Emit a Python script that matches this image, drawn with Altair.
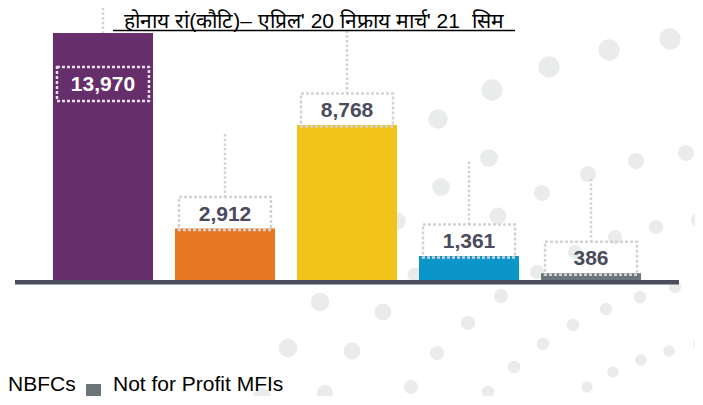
import altair as alt
import pandas as pd

# ---- data -------------------------------------------------------------
categories = ["Banks", "SFBs", "NBFC-MFIs", "NBFCs", "Not for Profit MFIs"]
values = [13970, 2912, 8768, 1361, 386]
value_labels = ["13,970", "2,912", "8,768", "1,361", "386"]
bar_colors = ["#662e6b", "#e87722", "#f2c31b", "#0b96c9", "#6b767b"]

title_text = "होनाय रां(कौटि)– एप्रिल' 20 निफ्राय मार्च' 21\u00a0 सिम"
legend_labels = ["NBFCs", "Not for Profit MFIs"]
legend_colors = ["#0b96c9", "#6b767b"]

# decorative background dots (page-pixel positions and radii)
dot_x = [492, 549, 609, 670, 438, 387, 489, 441, 397, 498, 542, 588, 636, 686,
         415, 537, 575, 615, 656, 698, 320, 383, 288, 352, 262, 325, 411, 501,
         468, 437, 543, 573, 606, 640, 675, 514, 488, 587, 613, 641, 669, 699,
         563, 689]
dot_y = [90, 67, 50, 39, 119, 153, 158, 187, 221, 216, 193, 174, 161, 153,
         275, 272, 252, 237, 227, 220, 302, 312, 348, 351, 397, 393, 387, 296,
         323, 353, 344, 325, 309, 297, 287, 367, 392, 387, 372, 360, 351, 344,
         405, 402]
dot_r = [12, 12, 12, 12, 11, 11, 10, 10, 10, 9.5, 9, 9, 9, 9,
         8.5, 8, 8, 8, 8, 8, 10.5, 9.5, 10.5, 9.5, 10, 9, 8, 8,
         8, 8, 7, 7, 7, 7, 7, 7, 7, 6.5, 6.5, 6.5, 6.5, 6.5,
         6, 6]

FONT = "Liberation Sans"
LABEL_COLOR = "#4a4b5c"
BOX_COLOR = "#d3d3d3"

df = pd.DataFrame({"category": categories, "value": values,
                   "label": value_labels, "color": bar_colors})
dots = pd.DataFrame({"px": dot_x, "py": dot_y,
                     "area": [3.14159 * r * r for r in dot_r]})
base_df = pd.DataFrame({"value": [0]})
title_df = pd.DataFrame({"t": [title_text]})
leg_df = pd.DataFrame({"label": legend_labels, "color": legend_colors})

x_enc = alt.X("category:N",
              scale=alt.Scale(type="band", domain=categories,
                              paddingInner=0.18, paddingOuter=0.311),
              axis=None)
y_scale = alt.Scale(domain=[0, 13970], nice=False, zero=True)
y_enc = alt.Y("value:Q", scale=y_scale, axis=None)
y2_enc = alt.Y2("value:Q")

first = alt.datum.category == categories[0]
rest = alt.datum.category != categories[0]

dots_layer = alt.Chart(dots).mark_circle(color="#eaebeb", opacity=1).encode(
    x=alt.X("px:Q", scale=alt.Scale(domain=[15, 679], nice=False, zero=False), axis=None),
    y=alt.Y("py:Q", scale=alt.Scale(domain=[33, 280], reverse=True, nice=False, zero=False), axis=None),
    size=alt.Size("area:Q", scale=None),
)

bars = alt.Chart(df).mark_bar().encode(
    x=x_enc, y=y_enc, color=alt.Color("color:N", scale=None)
)

baseline = alt.Chart(base_df).mark_rule(color="#4b4c5e", strokeWidth=4.5, yOffset=2.2).encode(
    y=alt.Y("value:Q", scale=y_scale, axis=None)
)

boxes = alt.Chart(df).transform_filter(rest).mark_bar(
    width=92, fillOpacity=0, stroke=BOX_COLOR, strokeWidth=2.5,
    strokeDash=[3, 2], yOffset=-31.5, y2Offset=1.5
).encode(x=x_enc, y=y_enc, y2=y2_enc)

box_first = alt.Chart(df).transform_filter(first).mark_bar(
    width=92, fillOpacity=0, stroke="#e8e0ea", strokeWidth=2.5,
    strokeDash=[3, 2], yOffset=34, y2Offset=68
).encode(x=x_enc, y=y_enc, y2=y2_enc)

connectors = alt.Chart(df).transform_filter(rest).mark_rule(
    stroke=BOX_COLOR, strokeWidth=2.5, strokeDash=[2.5, 2.2],
    yOffset=-94.5, y2Offset=-31.5
).encode(x=x_enc, y=y_enc, y2=y2_enc)

connector_first = alt.Chart(df).transform_filter(first).mark_rule(
    stroke=BOX_COLOR, strokeWidth=2.5, strokeDash=[2.5, 2.2],
    yOffset=-30, y2Offset=0
).encode(x=x_enc, y=y_enc, y2=y2_enc)

labels = alt.Chart(df).transform_filter(rest).mark_text(
    font=FONT, fontSize=21, fontWeight="bold", color=LABEL_COLOR,
    baseline="alphabetic", dy=-8
).encode(x=x_enc, y=y_enc, text="label:N")

label_first = alt.Chart(df).transform_filter(first).mark_text(
    font=FONT, fontSize=21, fontWeight="bold", color="white",
    baseline="alphabetic", dy=58
).encode(x=x_enc, y=y_enc, text="label:N")

title = alt.Chart(title_df).mark_text(
    font=FONT, fontSize=21, color="black",
    align="center", baseline="alphabetic"
).encode(x=alt.value(299), y=alt.value(-5.5), text="t:N")

underline = alt.Chart(title_df).mark_rule(color="black", strokeWidth=1.5).encode(
    x=alt.value(98), x2=alt.value(500), y=alt.value(-2.5)
)

leg_text1 = alt.Chart(leg_df).transform_filter(alt.datum.label == legend_labels[0]).mark_text(
    font=FONT, fontSize=21, color="black", align="left", baseline="alphabetic"
).encode(x=alt.value(-7), y=alt.value(358), text="label:N")

leg_square = alt.Chart(leg_df).transform_filter(alt.datum.label == legend_labels[1]).mark_square(
    size=225, opacity=1
).encode(x=alt.value(78.5), y=alt.value(358.5), color=alt.Color("color:N", scale=None))

leg_text2 = alt.Chart(leg_df).transform_filter(alt.datum.label == legend_labels[1]).mark_text(
    font=FONT, fontSize=21, color="black", align="left", baseline="alphabetic"
).encode(x=alt.value(98), y=alt.value(358), text="label:N")

chart = alt.layer(
    dots_layer, connector_first, connectors, bars, baseline, boxes, box_first,
    labels, label_first, title, underline, leg_text1, leg_square, leg_text2
).resolve_scale(x="independent", y="independent").properties(
    width=664, height=247,
    padding={"left": 7, "top": 25, "right": 16, "bottom": 116},
    autosize=alt.AutoSizeParams(type="none"),
).configure_view(stroke=None)

chart.save("out.html", embed_options={"renderer": "svg", "actions": False})
